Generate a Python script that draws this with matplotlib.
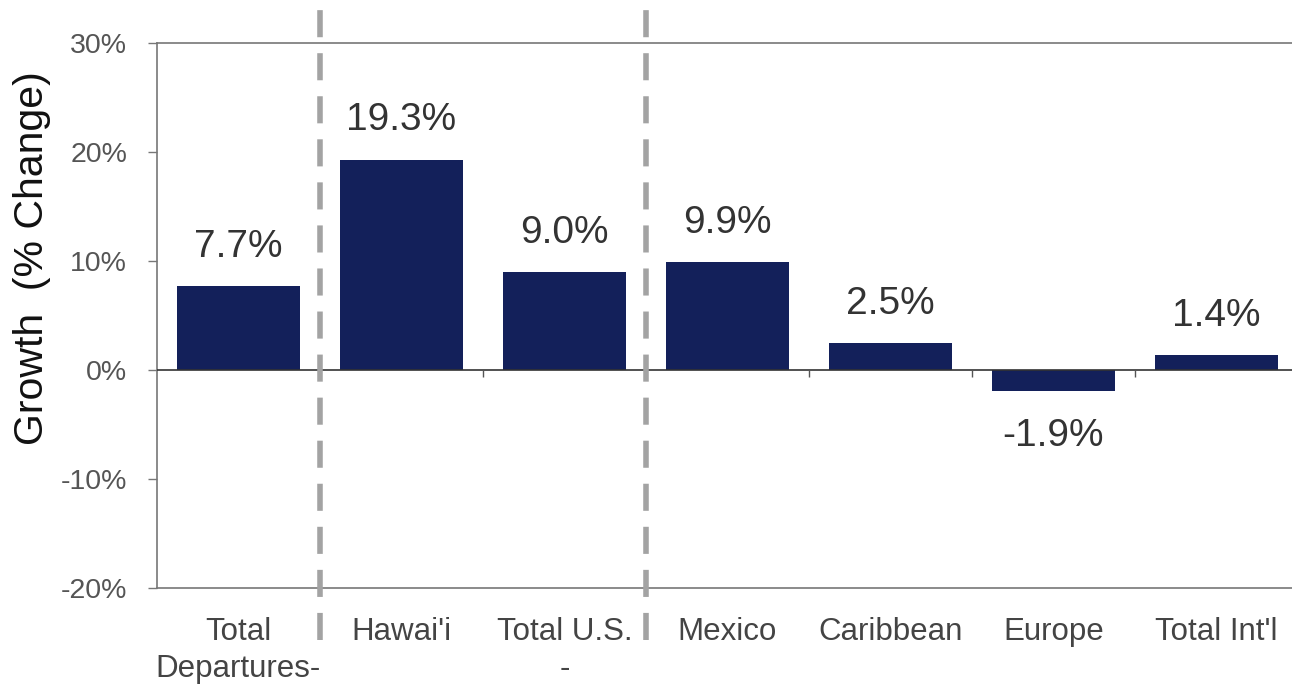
import matplotlib
matplotlib.use("Agg")
import matplotlib.pyplot as plt
from matplotlib.ticker import FuncFormatter

# Departure growth by destination (% change)
categories = ["Total\nDepartures-", "Hawai'i", "Total U.S.\n-", "Mexico",
              "Caribbean", "Europe", "Total Int'l"]
growth = [7.7, 19.3, 9.0, 9.9, 2.5, -1.9, 1.4]
value_labels = ["7.7%", "19.3%", "9.0%", "9.9%", "2.5%", "-1.9%", "1.4%"]
y_ticks = [-20, -10, 0, 10, 20, 30]
group_dividers = [0.5, 2.5]

plt.rcParams["font.family"] = ["Liberation Sans", "DejaVu Sans"]
plt.rcParams["lines.scale_dashes"] = False

fig = plt.figure(figsize=(12.92, 6.89), dpi=100)
ax = fig.add_axes([157 / 1292, 101 / 689, 1141 / 1292, 545 / 689])

bar_color = "#13205a"
x = list(range(len(categories)))
bars = ax.bar(x, growth, width=0.755, color=bar_color, zorder=2)

ax.set_xlim(-0.5, len(categories) - 0.5)
ax.set_ylim(y_ticks[0], y_ticks[-1])

# spines: gray left, top and bottom frame lines, no right spine
for side in ["left", "top", "bottom"]:
    ax.spines[side].set_color("#777777")
    ax.spines[side].set_linewidth(1.2)
ax.spines["right"].set_visible(False)

ax.set_yticks(y_ticks)
ax.yaxis.set_major_formatter(FuncFormatter(lambda v, p: f"{v:.0f}%"))
ax.tick_params(axis="y", direction="out", length=6.5, width=1, color="#777777",
               labelsize=20.5, labelcolor="#555555", pad=15)

ax.set_xticks(x)
ax.set_xticklabels(categories, fontsize=22.5, color="#444444", linespacing=1.3)
ax.tick_params(axis="x", length=0, pad=21)

# zero baseline with small downward ticks between categories
ax.axhline(0, color="#333333", lw=1.2, zorder=3)
boundaries = [i + 0.5 for i in range(len(categories) - 1)]
ax.vlines(boundaries, -0.6, 0, color="#555555", lw=1.0, zorder=3)

# dashed separators between category groups
for xd in group_dividers:
    ax.axvline(xd, ymin=-0.095, ymax=1.065, color="#a3a3a3", lw=4,
               dashes=(19.5, 11.5), clip_on=False, zorder=4)

# value labels
for xi, v, lab in zip(x, growth, value_labels):
    if v >= 0:
        ax.annotate(lab, (xi, v), xytext=(0, 21), textcoords="offset points",
                    ha="center", va="baseline", fontsize=28, color="#333333")
    else:
        ax.annotate(lab, (xi, v), xytext=(0, -20), textcoords="offset points",
                    ha="center", va="top", fontsize=28, color="#333333")

fig.text(32 / 1292, 1 - 258 / 689, "Growth  (% Change)", rotation=90,
         ha="center", va="center", fontsize=29.5, color="#111111")

fig.savefig("out.png", dpi=100)
